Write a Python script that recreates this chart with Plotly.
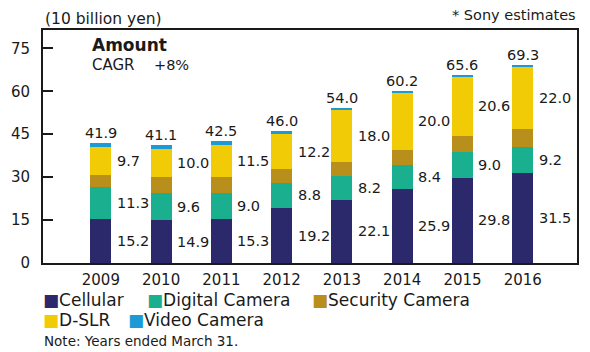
import plotly.graph_objects as go

years = ["2009", "2010", "2011", "2012", "2013", "2014", "2015", "2016"]
cellular = [15.2, 14.9, 15.3, 19.2, 22.1, 25.9, 29.8, 31.5]
digital_camera = [11.3, 9.6, 9.0, 8.8, 8.2, 8.4, 9.0, 9.2]
security_camera = [4.4, 5.4, 5.6, 4.8, 5.0, 5.3, 5.7, 6.1]
d_slr = [9.7, 10.0, 11.5, 12.2, 18.0, 20.0, 20.6, 22.0]
video_camera = [1.3, 1.2, 1.1, 1.0, 0.7, 0.6, 0.5, 0.5]
totals = [41.9, 41.1, 42.5, 46.0, 54.0, 60.2, 65.6, 69.3]
y_ticks = [0, 15, 30, 45, 60, 75]

series = [
    ("Cellular", cellular, "#2B296C", True),
    ("Digital Camera", digital_camera, "#1AB08F", True),
    ("Security Camera", security_camera, "#B98F1B", False),
    ("D-SLR", d_slr, "#F1CB06", True),
    ("Video Camera", video_camera, "#1B9AD6", False),
]

FONT = "DejaVu Sans"
TXT = "#1a1a1a"
xs = list(range(len(years)))

fig = go.Figure()
annotations = []
base = [0.0] * len(years)
for name, vals, color, labeled in series:
    fig.add_trace(go.Bar(
        x=xs, y=vals, name=name, marker=dict(color=color, line=dict(width=0)),
        width=0.35, showlegend=False, customdata=years,
        hovertemplate="%{customdata}<br>" + name + ": %{y}<extra></extra>",
    ))
    if labeled:
        for i in xs:
            annotations.append(dict(
                x=i, y=base[i] + vals[i] / 2, xref="x", yref="y",
                text=f"{vals[i]:.1f}", showarrow=False, xanchor="left", yanchor="middle",
                xshift=14, font=dict(family=FONT, size=14.5, color=TXT),
            ))
    base = [b + v for b, v in zip(base, vals)]

for i in xs:
    annotations.append(dict(
        x=i, y=totals[i], xref="x", yref="y", text=f"{totals[i]:.1f}",
        showarrow=False, xanchor="center", yanchor="bottom", yshift=0,
        font=dict(family=FONT, size=14.5, color=TXT),
    ))

# plot area: x 43..579 px, y 30..263 px
def px(xp, yp, text, size, anchor="left", bold=False):
    return dict(
        x=0, y=0, xref="paper", yref="paper", xshift=xp - 43, yshift=263 - yp,
        text=f"<b>{text}</b>" if bold else text, showarrow=False,
        xanchor=anchor, yanchor="middle", font=dict(family=FONT, size=size, color=TXT),
    )

annotations.append(px(43, 19, "(10 billion yen)", 15.5))
annotations.append(px(578, 15, "* Sony estimates", 14.5, anchor="right"))
annotations.append(px(90, 45, "Amount", 17, bold=True))
annotations.append(px(90, 65, "CAGR", 15))
annotations.append(px(152, 65, "+8%", 14.5))
annotations.append(px(42, 341, "Note: Years ended March 31.", 13.5))

legend_pos = [(41, 300), (145, 300), (310, 300), (41, 320), (126, 320)]
for (name, vals, color, labeled), (lx, ly) in zip(series, legend_pos):
    annotations.append(px(lx, ly, f"<span style='color:{color}'>■</span>{name}", 17))

fig.update_layout(
    width=590, height=352,
    margin=dict(l=43, r=11, t=30, b=89),
    barmode="stack",
    plot_bgcolor="white", paper_bgcolor="white",
    font=dict(family=FONT, size=15, color=TXT),
    annotations=annotations,
    xaxis=dict(
        range=[-0.96, 7.9], tickvals=xs, ticktext=years, showgrid=False, zeroline=False,
        showline=True, linecolor="#1a1a1a", linewidth=2, mirror=True,
        ticks="", tickfont=dict(family=FONT, size=15, color=TXT), ticklabelstandoff=2,
    ),
    yaxis=dict(
        range=[0, 81.4], tickvals=y_ticks, showgrid=False, zeroline=False,
        showline=True, linecolor="#1a1a1a", linewidth=2, mirror=True,
        ticks="inside", ticklen=10, tickwidth=2, tickcolor="#1a1a1a",
        tickfont=dict(family=FONT, size=15, color=TXT), ticklabelstandoff=8,
    ),
)

fig.write_html("out.html")
